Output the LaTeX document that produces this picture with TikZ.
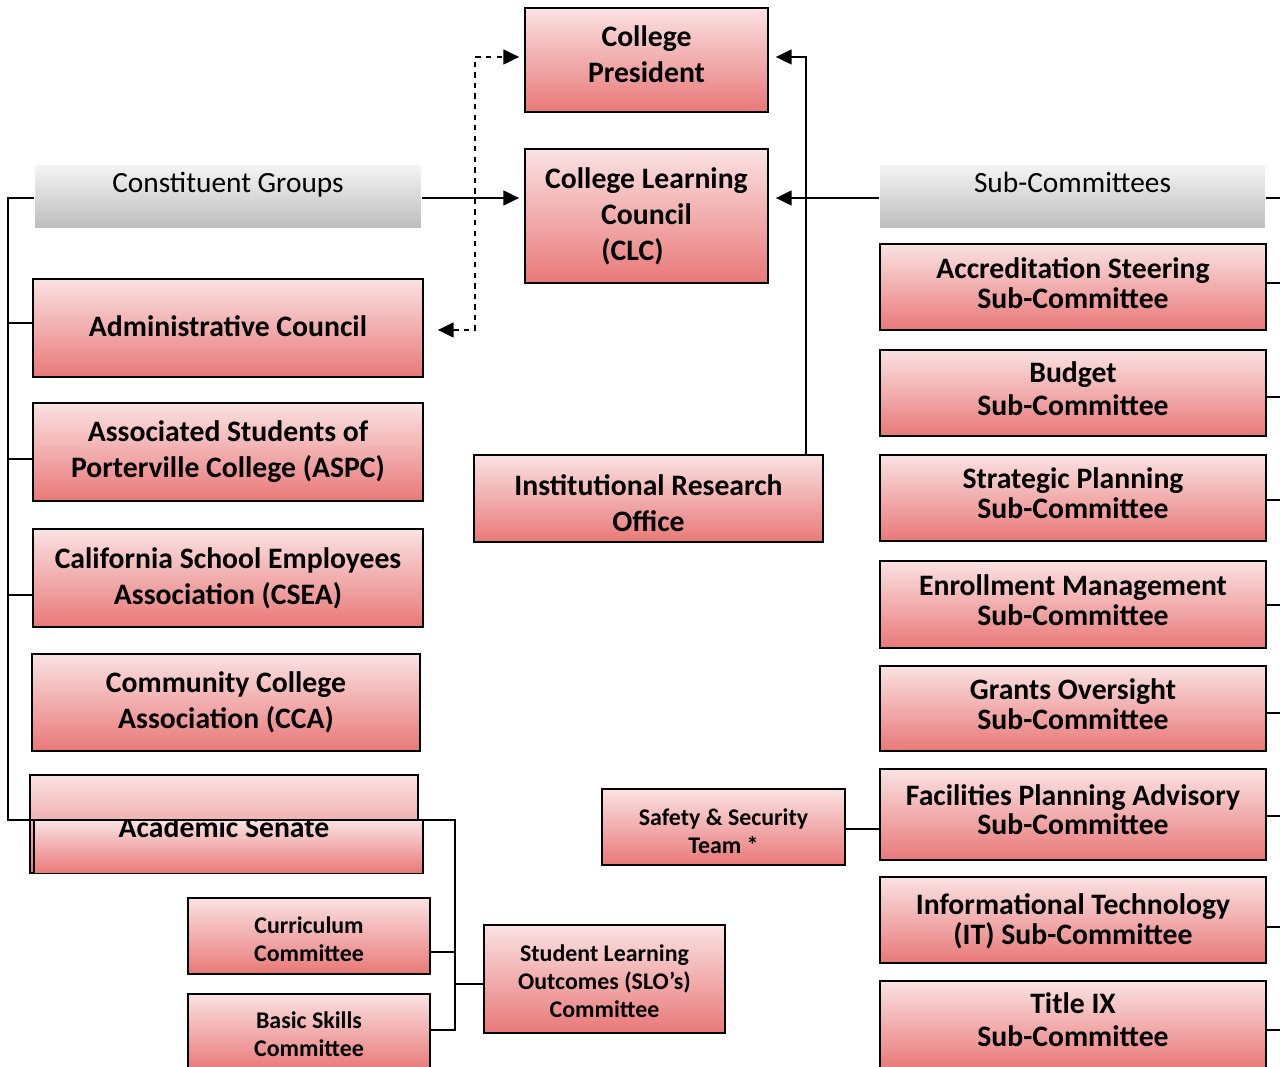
\documentclass[tikz,border=0pt]{standalone}
\usepackage{fontspec}
\setmainfont{Carlito}
\usetikzlibrary{arrows.meta,positioning}
\definecolor{pinktop}{RGB}{250,226,227}
\definecolor{pinkbot}{RGB}{233,120,120}
\definecolor{greytop}{RGB}{243,243,243}
\definecolor{greybot}{RGB}{190,190,190}
\newcommand\bigtxt{\bfseries\fontsize{16.9}{20.5}\selectfont}
\newcommand\subtxt{\bfseries\fontsize{16.9}{17}\selectfont}
\newcommand\midtxt{\bfseries\fontsize{16.9}{19}\selectfont}
\newcommand\smalltxt{\bfseries\fontsize{13.6}{16}\selectfont}

\begin{document}
\begin{tikzpicture}[x=0.02cm,y=-0.02cm,line width=1pt,>={Triangle[length=9pt,width=8.5pt]}]
\tikzset{sz/.style 2 args={minimum width=#1*0.02cm,minimum height=#2*0.02cm}}
\tikzstyle{box}=[draw=black,line width=1pt,top color=pinktop,bottom color=pinkbot,align=center,inner sep=0pt,font=\bigtxt]
\tikzstyle{header}=[top color=greytop,bottom color=greybot,inner sep=0pt,text height=15.4pt,text depth=19.4pt,font=\fontsize{16.7}{20}\selectfont]
\useasboundingbox (0,0) rectangle (1280,1067);

\node [box,sz={243}{104},text depth=0.24cm] (pres) at (646.5,60) {College\\President};
\node [box,sz={243}{134}] (clc) at (646.5,216) {College Learning\\Council\\(CLC)\hspace*{16pt}};
\node [header,minimum width=7.72cm] (cg) at (228,196.5) {Constituent Groups};
\node [header,minimum width=7.70cm] (sc) at (1072.5,196.5) {Sub-Committees};

\node [box,sz={390}{98},text depth=0.08cm] (admin) at (228,328) {Administrative Council};
\node [box,sz={390}{98}] (aspc) at (228,452) {Associated Students of\\Porterville College (ASPC)};
\node [box,sz={390}{98}] (csea) at (228,578) {California School Employees\\Association (CSEA)};
\node [box,sz={388}{97}] (cca) at (226,702.5) {Community College\\Association (CCA)};
\node [box,sz={388}{98}] (senateback) at (224,824) {};
\node [box,sz={389}{53}] (senate) at (228.5,847) {};
\begin{scope}
\clip (senate.north west) rectangle (senate.south east);
\node [font=\bigtxt,anchor=base] (senatetxt) at (224,837) {Academic Senate};
\end{scope}
\node [box,sz={242}{76},font=\smalltxt,text height=1.04cm] (curric) at (309,936) {Curriculum\\Committee};
\node [box,sz={242}{76},font=\smalltxt,text height=1.0cm] (basic) at (309,1032) {Basic Skills\\Committee};
\node [box,sz={241}{108},font=\smalltxt,text height=1.56cm] (slo) at (604.5,979) {Student Learning\\Outcomes (SLO’s)\\Committee};
\node [box,sz={349}{87},text height=1.34cm] (iro) at (648.5,498.5) {Institutional Research\\Office};
\node [box,sz={243}{76},font=\smalltxt,text height=1.08cm] (safety) at (723.5,827) {Safety \& Security\\Team *};

\node [box,sz={386}{86},font=\subtxt,text depth=0.16cm] (acc) at (1073,287) {Accreditation Steering\\Sub-Committee};
\node [box,sz={386}{86},font=\midtxt,text depth=0.18cm] (budget) at (1073,393) {Budget\\Sub-Committee};
\node [box,sz={386}{86},font=\subtxt,text depth=0.2cm] (strat) at (1073,498) {Strategic Planning\\Sub-Committee};
\node [box,sz={386}{87},font=\subtxt,text depth=0.18cm] (enroll) at (1073,604.5) {Enrollment Management\\Sub-Committee};
\node [box,sz={386}{85},font=\subtxt,text depth=0.16cm] (grants) at (1073,708.5) {Grants Oversight\\Sub-Committee};
\node [box,sz={386}{91},font=\subtxt,text depth=0.2cm] (fac) at (1073,814.5) {Facilities Planning Advisory\\Sub-Committee};
\node [box,sz={386}{86},font=\subtxt,text depth=0.04cm] (it) at (1073,920) {Informational Technology\\(IT) Sub-Committee};
\node [box,sz={386}{88},font=\midtxt,text depth=0.22cm] (title) at (1073,1025) {Title IX\\Sub-Committee};

\coordinate (lbtop) at (8,198);
\coordinate (lbbot) at (8,820);
\coordinate (sbtop) at (455,820);
\coordinate (sbbot) at (455,1030);
\coordinate (dashknee) at (475,57);
\coordinate (irknee) at (806,57);

\draw (cg.west |- lbtop) -- (lbtop) -- (lbbot) -- (sbtop) -- (sbbot) -- (basic.east |- sbbot);
\draw (admin.west |- 0,323) -- (lbtop |- 0,323);
\draw (aspc.west |- 0,459) -- (lbtop |- 0,459);
\draw (csea.west |- 0,595) -- (lbtop |- 0,595);
\draw (curric.east |- 0,952) -- (sbtop |- 0,952);
\draw (slo.west |- 0,984) -- (sbtop |- 0,984);
\draw [->,shorten >=0.1cm] (cg.east |- lbtop) -- (clc.west |- lbtop);
\draw [->,shorten >=0.14cm] (sc.west |- lbtop) -- (clc.east |- lbtop);
\draw [->,shorten >=0.14cm] (iro.north -| irknee) -- (irknee) -- (pres.east |- irknee);
\draw [dashed,<->,shorten <=0.28cm,shorten >=0.1cm] (admin.east |- 0,330) -| (dashknee) -- (pres.west |- dashknee);
\draw (safety.east |- 0,829) -- (fac.west |- 0,829);
\foreach \n/\y in {sc/198,acc/283,budget/397,strat/500,enroll/605,grants/713,fac/816,it/927,title/1030}
  \draw (\n.east |- 0,\y) -- (1285,\y);
\end{tikzpicture}
\end{document}
